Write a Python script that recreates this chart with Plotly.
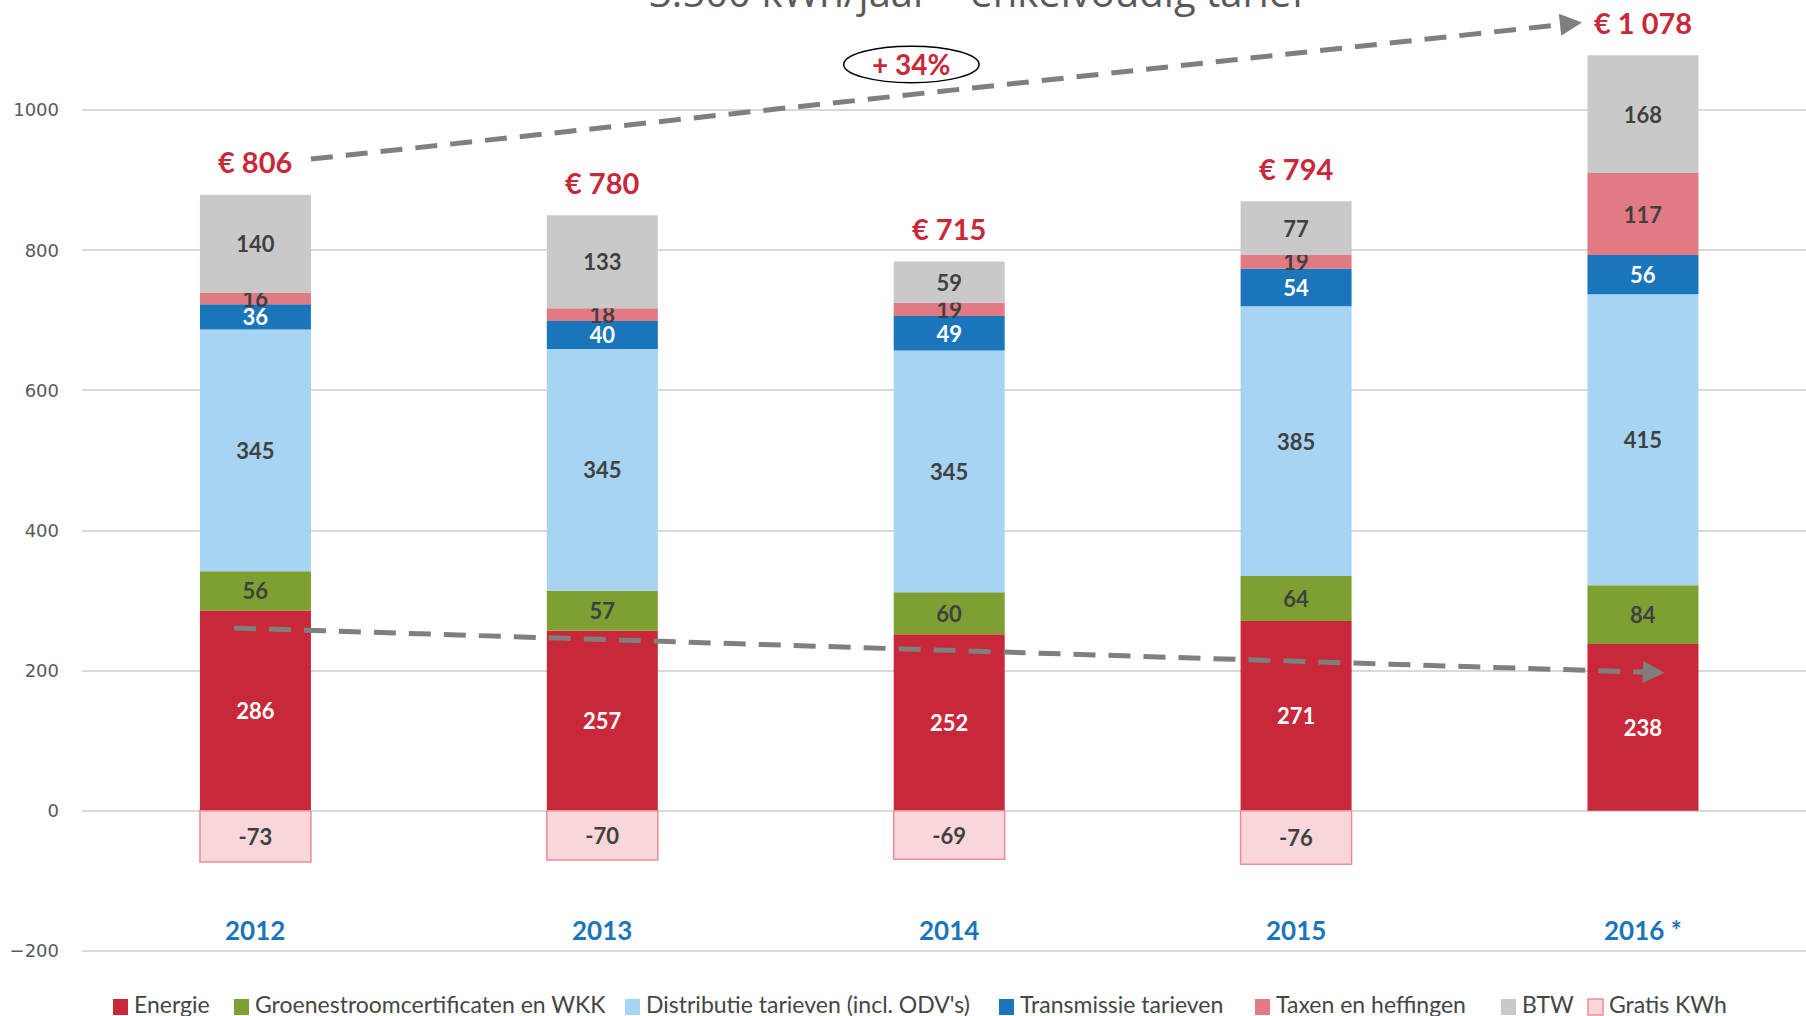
import plotly.graph_objects as go

years = ["2012", "2013", "2014", "2015", "2016 *"]
energie = [286, 257, 252, 271, 238]
groene = [56, 57, 60, 64, 84]
distributie = [345, 345, 345, 385, 415]
transmissie = [36, 40, 49, 54, 56]
taxen = [16, 18, 19, 19, 117]
btw = [140, 133, 59, 77, 168]
gratis = [-73, -70, -69, -76, None]

series = [
    ("Energie", energie, "#C8283A", "white"),
    ("Groenestroomcertificaten en WKK", groene, "#7EA033", "#404040"),
    ("Distributie tarieven (incl. ODV's)", distributie, "#A6D4F2", "#404040"),
    ("Transmissie tarieven", transmissie, "#1B75BB", "white"),
    ("Taxen en heffingen", taxen, "#E27A84", "#404040"),
    ("BTW", btw, "#C9C9C9", "#404040"),
]
GRATIS_FILL, GRATIS_LINE = "#F8D6DA", "#E98E98"

FONT = "Lato"
W, H = 1806, 1016
ML, MB = 82, 56
PW, PH = W - ML, H - MB

fig = go.Figure()
for name, vals, col, tcol in series:
    fig.add_trace(go.Bar(
        x=list(range(len(years))), y=vals, name=name, showlegend=False,
        marker=dict(color=col, line=dict(width=0)),
        text=[str(v) for v in vals], textposition="inside", insidetextanchor="middle",
        constraintext="none", textangle=0,
        textfont=dict(family=FONT, size=22, color=tcol, weight="bold"),
        width=0.32, cliponaxis=False, hoverinfo="skip",
    ))
fig.add_trace(go.Bar(
    x=list(range(len(years))), y=gratis, name="Gratis KWh", showlegend=False,
    marker=dict(color=GRATIS_FILL, line=dict(width=1.5, color=GRATIS_LINE)),
    text=[("" if v is None else str(v)) for v in gratis], textposition="inside",
    insidetextanchor="middle", constraintext="none", textangle=0,
    textfont=dict(family=FONT, size=22, color="#404040", weight="bold"),
    width=0.32, cliponaxis=False, hoverinfo="skip",
))

# totals and category labels
pos_tops = [sum(s[1][i] for s in series) for i in range(len(years))]
totals = [pos_tops[i] + (gratis[i] or 0) for i in range(len(years))]
annotations = []
for i, y in enumerate(years):
    annotations.append(dict(
        x=i, y=pos_tops[i], yshift=33, showarrow=False,
        text="€ " + f"{totals[i]:,}".replace(",", " "),
        font=dict(family=FONT, size=29, color="#C8283A", weight="bold"),
    ))
    annotations.append(dict(
        x=i, y=-170, showarrow=False, text=y,
        font=dict(family=FONT, size=26, color="#1B75BB", weight="bold"),
    ))

# trend arrows (annotation geometry)
arrows = [((0.16, 930), (3.824, 1125)), ((-0.062, 261), (4.063, 197))]
shapes = []
for (x0, y0), (x1, y1) in arrows:
    slope = (y1 - y0) / (x1 - x0)
    shapes.append(dict(type="line", xref="x", yref="y", x0=x0, y0=y0,
                       x1=x1 - 0.03, y1=y1 - 0.03 * slope,
                       line=dict(color="#7F7F7F", width=5, dash="22px,13px")))
    annotations.append(dict(x=x1, y=y1, ax=x1 - 0.05, ay=y1 - 0.05 * slope,
                            xref="x", yref="y", axref="x", ayref="y", showarrow=True,
                            arrowhead=2, arrowsize=1.1, arrowwidth=4, arrowcolor="#7F7F7F", text=""))

shapes.append(dict(type="circle", xref="x", yref="y", x0=1.696, x1=2.086, y0=1039, y1=1091,
                   line=dict(color="black", width=1.5), fillcolor="rgba(0,0,0,0)"))
annotations.append(dict(x=1.891, y=1065, showarrow=False, text="+ 34%",
                        font=dict(family=FONT, size=28, color="#C8283A", weight="bold")))

# title (cropped at top of the picture, as in the reference)
annotations.append(dict(xref="paper", yref="paper", x=0.52, y=1, yanchor="bottom", yshift=-21,
                        showarrow=False, text="3.500 kWh/jaar – enkelvoudig tarief",
                        font=dict(family="Open Sans", size=40, color="#595959")))

# manual legend
legend_items = [(s[0], s[2], s[2]) for s in series] + [("Gratis KWh", GRATIS_FILL, GRATIS_LINE)]
legend_px = [113, 234, 625, 999, 1255, 1501, 1588]
LEG_FONT = "Lato"
for (name, fill, line), px in zip(legend_items, legend_px):
    x0 = (px - ML) / PW
    x1 = (px + 15 - ML) / PW
    shapes.append(dict(type="rect", xref="paper", yref="paper", x0=x0, x1=x1,
                       y0=(PH - 1015) / PH, y1=(PH - 999) / PH,
                       fillcolor=fill, line=dict(color=line, width=1.5 if fill == GRATIS_FILL else 0)))
    annotations.append(dict(xref="paper", yref="paper", x=(px + 19 - ML) / PW, xanchor="left",
                            y=(PH - 1004) / PH, yanchor="middle", showarrow=False, text=name,
                            font=dict(family=LEG_FONT, size=23, color="#454545")))

fig.update_layout(
    width=W, height=H, barmode="relative",
    margin=dict(l=ML, r=0, t=0, b=MB, autoexpand=False),
    plot_bgcolor="white", paper_bgcolor="white",
    showlegend=False, hovermode=False,
    xaxis=dict(type="linear", range=[-0.5, 4.47], showticklabels=False, showgrid=False,
               zeroline=False, showline=False, automargin=False),
    yaxis=dict(range=[-212.8, 1157], tickvals=[-200, 0, 200, 400, 600, 800, 1000],
               showgrid=True, gridcolor="#D9D9D9", gridwidth=2, zeroline=True, zerolinecolor="#D9D9D9",
               zerolinewidth=2, tickfont=dict(family="DejaVu Sans", size=18, color="#595959"),
               ticks="", ticklabelstandoff=22, showline=False, automargin=False),
    annotations=annotations, shapes=shapes,
)

fig.write_html("out.html", config={"displayModeBar": False},
               post_script="document.body.style.margin='0px';")
